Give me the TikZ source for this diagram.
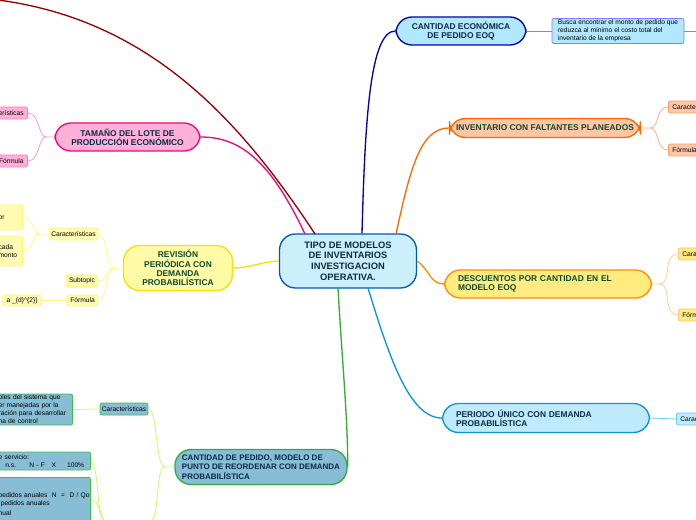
\documentclass[tikz,border=0pt]{standalone}
\usepackage{fontspec}
\setmainfont{Liberation Sans}
\begin{document}
\begin{tikzpicture}[x=0.75pt,y=-0.75pt,
 main/.style={rounded corners=12pt,line width=1pt,font=\bfseries\fontsize{6.3}{7}\selectfont,align=center,inner sep=0pt},
 sub/.style={rounded corners=1.5pt,line width=0.6pt,font=\fontsize{5}{6}\selectfont,inner sep=0pt},
 con/.style={line width=1pt},
 scon/.style={line width=0.6pt}]
\useasboundingbox (0,0) rectangle (696,520);
\clip (0,0) rectangle (696,520);
\definecolor{navy}{HTML}{0B2A4A}\definecolor{dg}{HTML}{0E4A2A}
\definecolor{qb}{HTML}{88BDD6}\definecolor{pk}{HTML}{FFB0D8}
% center
\node[main,draw=blue!50!cyan!70!black,fill=cyan!20,minimum width=137*0.75pt,minimum height=54*0.75pt,text=navy,font=\bfseries\fontsize{7}{8}\selectfont] (c) at (348,261) {TIPO DE MODELOS\\DE INVENTARIOS\\INVESTIGACION\\OPERATIVA.};
% EOQ
\node[main,draw=blue!70!black,fill=blue!30!cyan!30,minimum width=130*0.75pt,minimum height=28*0.75pt,text=navy] (eoq) at (461,31) {CANTIDAD ECONÓMICA\\DE PEDIDO EOQ};
\node[sub,draw=blue!50,fill=blue!30!cyan!30,minimum width=132*0.75pt,minimum height=25*0.75pt,align=left] (busca) at (618,31) {Busca encontrar el monto de pedido que\\reduzca al mínimo el costo total del\\inventario de la empresa};
\coordinate (be) at (700,31);
\draw[con,blue!70!black] (c.north) ++(14,0) .. controls (365,120) and (370,31) .. (eoq.west);
\draw[scon,blue!50] (eoq.east)--(busca.west) (busca.east)--(be);
% faltantes
\node[main,draw=orange!80!red,fill=red!25!orange!35,minimum width=191*0.75pt,minimum height=19*0.75pt,text=dg] (f) at (545,128) {INVENTARIO CON FALTANTES PLANEADOS};
\node[sub,draw=red!30!orange!60,fill=red!25!orange!35,minimum height=12*0.75pt,anchor=west,inner xsep=3pt] (f1) at (668,107) {Características};
\node[sub,draw=red!30!orange!60,fill=red!25!orange!35,minimum height=12*0.75pt,anchor=west,inner xsep=3pt] (f2) at (668,150) {Fórmula};
\draw[con,orange!80!red] (396,234) .. controls (410,170) and (420,128) .. (f.west);
\draw[scon,red!30!orange!50] (f.east) -- (650,128) .. controls (660,128) and (655,107) .. (f1.west);
\draw[scon,red!30!orange!50] (650,128) .. controls (660,128) and (655,150) .. (f2.west);
% descuentos
\node[main,draw=orange!90!yellow,fill=orange!30!yellow!50,minimum width=207*0.75pt,minimum height=28*0.75pt,text=dg,align=left,text width=180*0.75pt] (d) at (548,284) {DESCUENTOS POR CANTIDAD EN EL\\MODELO EOQ};
\node[sub,draw=orange!50,fill=orange!30!yellow!50,minimum height=12*0.75pt,anchor=west,inner xsep=3pt] (d1) at (678,254) {Características};
\node[sub,draw=orange!50,fill=orange!30!yellow!50,minimum height=12*0.75pt,anchor=west,inner xsep=3pt] (d2) at (678,315) {Fórmula};
\draw[con,orange!90!yellow] (c.east) .. controls (430,270) and (430,284) .. (d.west);
\draw[scon,orange!40] (d.east) -- (660,284) .. controls (672,284) and (662,254) .. (d1.west);
\draw[scon,orange!40] (660,284) .. controls (672,284) and (662,315) .. (d2.west);
% periodo
\node[main,draw=cyan!80!blue,fill=cyan!25,minimum width=207*0.75pt,minimum height=29*0.75pt,text=navy,align=left,text width=180*0.75pt] (p) at (546,418) {PERIODO ÚNICO CON DEMANDA\\PROBABILÍSTICA};
\node[sub,draw=cyan!60,fill=cyan!25,minimum height=12*0.75pt,anchor=west,inner xsep=3pt] (p1) at (676,419) {Características};
\draw[con,cyan!80!blue] (368,288) .. controls (390,360) and (410,418) .. (p.west);
\draw[scon,cyan!60] (p.east)--(p1.west);
% cantidad pedido
\node[main,draw=green!60!black!80,fill=qb,minimum width=172*0.75pt,minimum height=35*0.75pt,text=navy,align=left,font=\bfseries\fontsize{6}{7}\selectfont] (q) at (261,467) {CANTIDAD DE PEDIDO, MODELO DE\\PUNTO DE REORDENAR CON DEMANDA\\PROBABILÍSTICA};
\node[sub,draw=green!50!gray,fill=qb,minimum width=48*0.75pt,minimum height=12*0.75pt] (q1) at (124,409) {Características};
\node[sub,draw=green!50!gray,fill=qb,text width=70*0.75pt,minimum height=31*0.75pt,anchor=east,align=left,inner xsep=3pt] (q1a) at (73,409.5) {bles del sistema que\\er manejadas por la\\ración para desarrollar\\na de control};
\node[sub,draw=green!50!gray,fill=qb,text width=88*0.75pt,minimum height=18*0.75pt,anchor=east,align=left,inner xsep=3pt] (q2) at (91,461) {e servicio:\\\ \ \ n.s.\ \ \ \ \ \ N - F\ \ \ X\ \ \ \ \ 100\%};
\node[sub,draw=green!50!gray,fill=qb,text width=88*0.75pt,minimum height=50*0.75pt,anchor=north east,align=left,inner xsep=3pt] (q3) at (91,477) {\\\mbox{pedidos anuales\ \ N\ \ =\ \ D / Qo}\\\ pedidos anuales\\[2pt]nual\\};
\draw[con,green!60!black!80] (338,288) .. controls (342,360) and (348,420) .. (q.east);
\draw[scon,green!40!yellow!60] (q.west) -- (165,467) .. controls (155,467) and (158,409) .. (q1.east);
\draw[scon,green!40!yellow!60] (165,467) .. controls (155,467) and (160,520) .. (150,522);
\draw[scon,green!40!yellow!60] (q1.west)--(q1a.east);
\draw[scon,green!40!yellow!60] (q2.east) .. controls (100,470) and (95,510) .. (105,522);
\draw[scon,green!40!yellow!60] (q3.east |- 0,500) .. controls (100,500) and (98,515) .. (105,522);
% revision
\node[main,draw=yellow!80!orange,fill=yellow!35,minimum width=109*0.75pt,minimum height=45*0.75pt,text=dg] (r) at (178,268) {REVISIÓN\\PERIÓDICA CON\\DEMANDA\\PROBABILÍSTICA};
\node[sub,draw=yellow!60,fill=yellow!30,minimum width=49*0.75pt,minimum height=12*0.75pt] (r1) at (73.5,234) {Características};
\node[sub,draw=yellow!60,fill=yellow!30,minimum width=32*0.75pt,minimum height=12*0.75pt] (r2) at (82,281) {Subtopic};
\node[sub,draw=yellow!60,fill=yellow!30,minimum width=31*0.75pt,minimum height=11*0.75pt] (r3) at (82.5,300.5) {Fórmula};
\node[sub,draw=yellow!60,fill=yellow!30,text width=20*0.75pt,minimum height=25*0.75pt,anchor=east,align=left,inner xsep=3pt] (r1a) at (23,217.5) {or};
\node[sub,draw=yellow!60,fill=yellow!30,text width=20*0.75pt,minimum height=30*0.75pt,anchor=east,align=left,inner xsep=3pt] (r1b) at (23,251) {cada\\monto\\};
\node[sub,draw=yellow!60,fill=yellow!30,minimum height=11*0.75pt,anchor=east,inner xsep=3pt] (r3a) at (42,300.5) {a \_\{d\}\^{}\{2\}\}};
\draw[con,yellow!80!orange] (c.west) .. controls (260,262) and (250,268) .. (r.east);
\draw[scon,yellow!50] (r.west) -- (115,268) .. controls (105,268) and (108,234) .. (r1.east);
\draw[scon,yellow!50] (115,268) .. controls (105,268) and (108,281) .. (r2.east);
\draw[scon,yellow!50] (115,268) .. controls (105,268) and (108,300) .. (r3.east);
\draw[scon,yellow!50] (r1.west) -- (40,234) .. controls (32,234) and (34,217) .. (r1a.east);
\draw[scon,yellow!50] (40,234) .. controls (32,234) and (34,251) .. (r1b.east);
\draw[scon,yellow!50] (r3.west)--(r3a.east);
% tamaño
\node[main,draw=magenta!80!red,fill=pk,minimum width=145*0.75pt,minimum height=28*0.75pt,text=navy] (t) at (127.5,137) {TAMAÑO DEL LOTE DE\\PRODUCCIÓN ECONÓMICO};
\node[sub,draw=magenta!50,fill=pk,minimum height=12*0.75pt,anchor=east,inner xsep=3pt] (t1) at (28,113) {Características};
\node[sub,draw=magenta!50,fill=pk,minimum height=12*0.75pt,anchor=east,inner xsep=3pt] (t2) at (28,161) {Fórmula};
\draw[con,magenta!80!red] (305,234) .. controls (270,160) and (240,137) .. (t.east);
\draw[scon,magenta!40] (t.west) -- (46,137) .. controls (38,137) and (40,113) .. (t1.east);
\draw[scon,magenta!40] (46,137) .. controls (38,137) and (40,161) .. (t2.east);
% dark red
\coordinate (dr) at (-2,0);
\draw[con,red!60!black] (315,234) .. controls (240,120) and (150,20) .. (dr);
\end{tikzpicture}
\end{document}
